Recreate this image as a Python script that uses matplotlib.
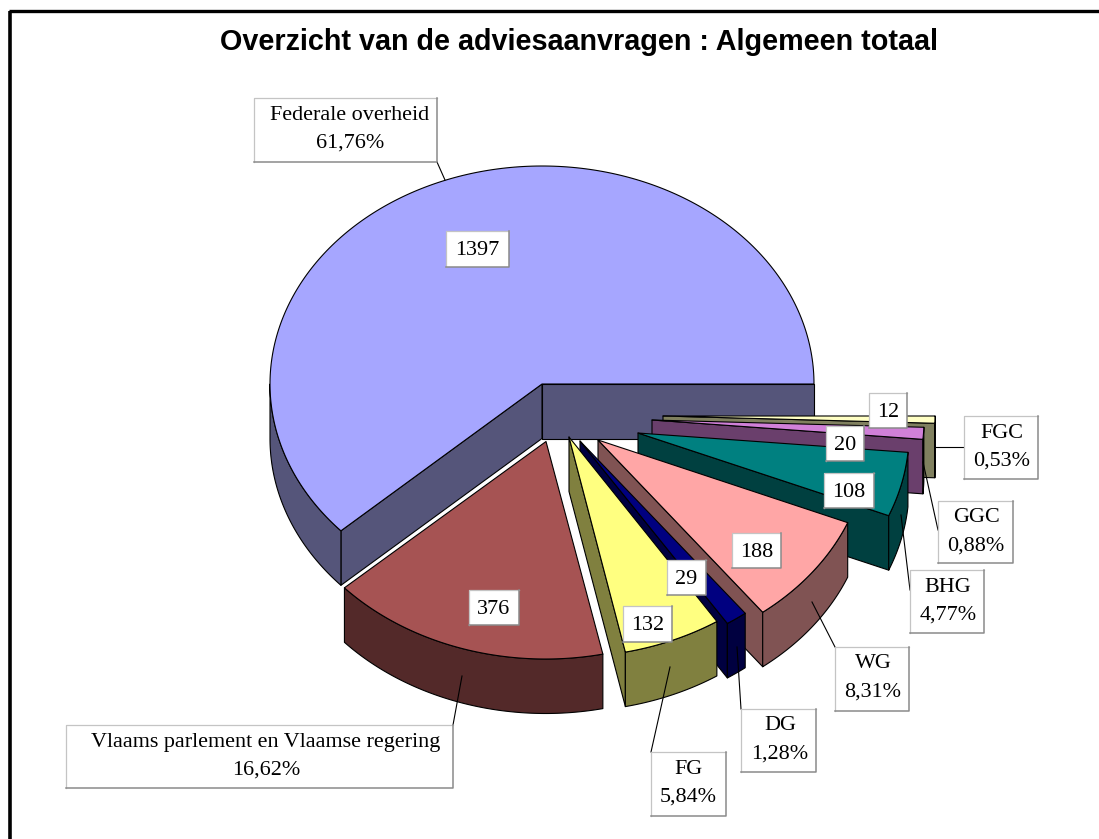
import numpy as np
import matplotlib
matplotlib.use("Agg")
import matplotlib.pyplot as plt
from matplotlib.patches import Polygon, Rectangle

TITLE = "Overzicht van de adviesaanvragen : Algemeen totaal"
categories = ["Federale overheid", "Vlaams parlement en Vlaamse regering", "FG", "DG", "WG", "BHG", "GGC", "FGC"]
values = [1397, 376, 132, 29, 188, 108, 20, 12]

top_colors = ["#A6A6FF", "#A65353", "#FFFF80", "#000080", "#FFA6A6", "#008080", "#D080D8", "#FFFFC4"]
side_colors = ["#55557A", "#532929", "#80803F", "#000040", "#805353", "#004040", "#6A3F6C", "#80805F"]

# pie geometry (pixels)
CX, CY, RX, RY, DEPTH = 542, 384, 272, 218, 54.5
explode = [(0, 0), (3.5, 57), (26, 55), (36.5, 57), (54, 56), (95, 49), (110, 36), (121, 32)]
apex_points = [(542, 384), (546, 441.5), (569, 437), (580, 441), (598, 440), (638, 433), (652, 420), (663, 416)]

# label layout (pixels): value boxes (x0, y0, x1, y1)
value_boxes = [(446, 231, 509, 267), (469, 590, 519, 625), (623, 606, 672, 642), (667, 560, 706, 595),
               (732, 533, 781, 568), (824, 473, 874, 508), (826, 426, 864, 461), (869, 393, 907, 428)]
cat_boxes = [(254, 98, 437, 162), (66, 725, 453, 788), (651, 752, 726, 816), (741, 709, 816, 772),
             (835, 647, 909, 711), (910, 570, 984, 633), (938, 501, 1013, 563), (964, 416, 1038, 479)]
cat_text_x = [350, 266, 688, 780, 873, 948, 976, 1002]
leaders = [((437, 162), (445, 180)), ((462, 676), (453, 725)), ((670, 667), (651, 752)), ((737, 647), (741, 709)),
           ((812, 602), (835, 647)), ((901, 515), (910, 590)), ((923, 462), (938, 530)), ((936, 447), (964, 447))]

W, H = 1099, 839
fig = plt.figure(figsize=(W / 100, H / 100), dpi=100, facecolor="white")
ax = fig.add_axes([0, 0, 1, 1])
ax.set_xlim(0, W)
ax.set_ylim(H, 0)
ax.axis("off")

LW = 0.8
SERIF = "Liberation Serif"


def pt(ang, ox, oy):
    a = np.radians(ang)
    return CX + ox + RX * np.cos(a), CY + oy - RY * np.sin(a)


def face_visible(ang, is_start):
    # a cut face shows when its outward normal points down the screen
    dx = np.cos(np.radians(ang))
    return dx > 0 if is_start else dx < 0


def draw_slice(t0, t1, off, apex, top, side, z):
    ox, oy = off
    kw = dict(edgecolor="black", linewidth=LW, joinstyle="round")
    for ang, is_start in ((t0, True), (t1, False)):
        if face_visible(ang, is_start):
            p = pt(ang, ox, oy)
            ax.add_patch(Polygon([apex, p, (p[0], p[1] + DEPTH), (apex[0], apex[1] + DEPTH)],
                                 facecolor=side, zorder=z, **kw))
    r0, r1 = max(t0, 180), min(t1, 360)
    if r1 > r0:
        th = np.linspace(r0, r1, 120)
        upper = [pt(a, ox, oy) for a in th]
        lower = [(x, y + DEPTH) for x, y in upper][::-1]
        ax.add_patch(Polygon(upper + lower, facecolor=side, zorder=z + 0.1, **kw))
    th = np.linspace(t0, t1, 240)
    ax.add_patch(Polygon([apex] + [pt(a, ox, oy) for a in th], facecolor=top, zorder=z + 0.2, **kw))


total = sum(values)
edges = np.concatenate(([0], np.cumsum(values))) / total * 360
# painter's order: back slice first, the nearest last
order = [0, 7, 6, 5, 4, 3, 2, 1]
for rank, i in enumerate(order):
    draw_slice(edges[i], edges[i + 1], explode[i], apex_points[i], top_colors[i], side_colors[i], 2 + rank)

for (a, b) in leaders:
    ax.plot([a[0], b[0]], [a[1], b[1]], color="black", lw=0.8, zorder=20)


def box(b, z=21):
    x0, y0, x1, y1 = b
    ax.add_patch(Rectangle((x0, y0), x1 - x0, y1 - y0, facecolor="white", edgecolor="none", zorder=z))
    ax.plot([x0, x0, x1], [y1, y0, y0], color="#C4C4C4", lw=0.9, zorder=z + 0.1)
    ax.plot([x0, x1, x1], [y1, y1, y0], color="#8A8A8A", lw=1.1, zorder=z + 0.1)


FS = 15.9
for i, v in enumerate(values):
    b = value_boxes[i]
    box(b)
    ax.text((b[0] + b[2]) / 2, b[1] + 24, str(v), family=SERIF, fontsize=FS, ha="center", va="baseline", zorder=23)

    c = cat_boxes[i]
    box(c)
    pct = f"{v / total * 100:.2f}".replace(".", ",") + "%"
    ax.text(cat_text_x[i], c[1] + 21.5, categories[i], family=SERIF, fontsize=FS, ha="center", va="baseline", zorder=23)
    ax.text(cat_text_x[i], c[1] + 50, pct, family=SERIF, fontsize=FS, ha="center", va="baseline", zorder=23)

ax.text(579, 49.5, TITLE, family="Liberation Sans", fontweight="bold", fontsize=20.7, ha="center", va="baseline", zorder=23)

# frame of the source slide, cut at the right and bottom of the picture
ax.plot([10, 10], [H, 10.5], color="black", lw=2.6, solid_capstyle="butt", zorder=30)
ax.plot([8.5, W], [10.5, 10.5], color="black", lw=2.4, solid_capstyle="butt", zorder=30)

fig.savefig("out.png", dpi=100)
